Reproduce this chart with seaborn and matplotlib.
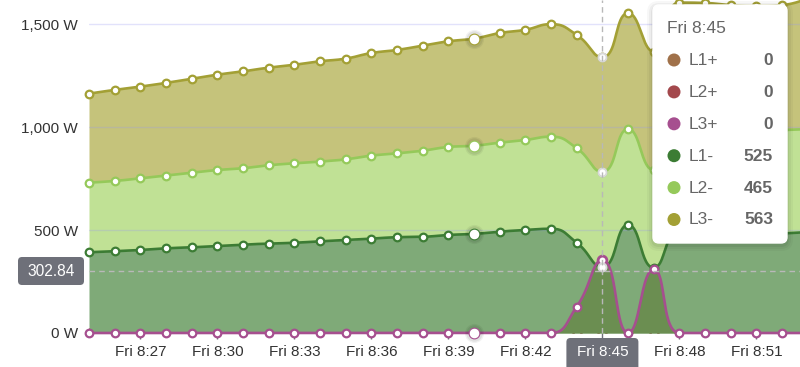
import numpy as np
import pandas as pd
import matplotlib
matplotlib.use("Agg")
import matplotlib.pyplot as plt
from matplotlib.patches import FancyBboxPatch, Circle
from matplotlib.transforms import Affine2D
import seaborn as sns

# ---------------- data (one point per minute, 8:25 .. 8:53) ----------------
times = ["8:25", "8:26", "8:27", "8:28", "8:29", "8:30", "8:31", "8:32", "8:33", "8:34",
         "8:35", "8:36", "8:37", "8:38", "8:39", "8:40", "8:41", "8:42", "8:43", "8:44",
         "8:45", "8:46", "8:47", "8:48", "8:49", "8:50", "8:51", "8:52", "8:53"]
L1_minus = [392, 397, 403, 411, 416, 422, 429, 434, 438, 445, 451, 458, 465, 467, 476, 481,
            492, 500, 506, 438, 320, 525, 317, 490, 478, 475, 478, 483, 490]
L2_minus = [338, 341, 348, 353, 362, 369, 371, 380, 386, 387, 392, 403, 407, 418, 427, 428,
            432, 437, 447, 459, 462, 465, 474, 485, 500, 505, 504, 502, 500]
L3_minus = [432, 442, 445, 450, 456, 463, 470, 474, 478, 487, 489, 498, 502, 510, 513, 520,
            532, 535, 546, 550, 556, 563, 575, 629, 624, 612, 606, 607, 635]
L1_plus = [0] * 29
L2_plus = [0] * 29
L3_plus = [0, 0, 0, 0, 0, 0, 0, 0, 0, 0, 0, 0, 0, 0, 0, 0, 0, 0, 0, 128, 354, 0, 309, 0, 0, 0, 0, 0, 0]

y_ticks = [0, 500, 1000, 1500]
y_tick_labels = ["0 W", "500 W", "1,000 W", "1,500 W"]
x_tick_labels = ["Fri 8:27", "Fri 8:30", "Fri 8:33", "Fri 8:36", "Fri 8:39", "Fri 8:42",
                 "Fri 8:45", "Fri 8:48", "Fri 8:51"]

tooltip_title = "Fri 8:45"
tooltip_names = ["L1+", "L2+", "L3+", "L1-", "L2-", "L3-"]
tooltip_values = ["0", "0", "0", "525", "465", "563"]
hover_index = 20          # 8:45
hover_value = 302.84

# ---------------- styling ----------------
C_L1P = "#a0714a"
C_L2P = "#a3484c"
C_L3P = "#a64f8f"
C_L1M = "#3c7c34"
C_L2M = "#95c95a"
C_L3M = "#a3a035"
F_L1M = "#7faa78"
F_L2M = "#c0e195"
F_L3M = "#c5c37b"
F_L3P = "#6b8e51"
TXT = "#333333"

W, H = 800, 367
PX_PER_MIN = 25.67
PX_PER_W = 0.206
LEFT_PX, ZERO_PX = 89, 333

sns.set_theme(style="white")
plt.rcParams["font.family"] = ["Liberation Sans", "DejaVu Sans"]

fig = plt.figure(figsize=(W / 100, H / 100), dpi=100)
ax = fig.add_axes([LEFT_PX / W, (H - ZERO_PX) / H, (W - LEFT_PX) / W, ZERO_PX / H])
ax.set_xlim(0, (W - LEFT_PX) / PX_PER_MIN)
ax.set_ylim(0, ZERO_PX / PX_PER_W)
for s in ax.spines.values():
    s.set_visible(False)
ax.set_facecolor("none")

px = Affine2D().scale(0.01, -0.01).translate(0, H / 100) + fig.dpi_scale_trans

minutes = np.arange(len(times), dtype=float)


def echarts_smooth(x, y, smooth=0.5, nseg=30):
    X = np.asarray(x, float) * PX_PER_MIN
    Y = np.asarray(y, float) * PX_PER_W
    n = len(X)
    out_x, out_y = [X[0]], [Y[0]]
    cpx0, cpy0 = X[0], Y[0]
    t = np.linspace(0, 1, nseg)[1:]
    for k in range(1, n):
        x0, y0 = X[k], Y[k]
        px_, py_ = X[k - 1], Y[k - 1]
        if k == n - 1:
            cpx1, cpy1 = x0, y0
            ncx, ncy = x0, y0
        else:
            nx, ny = X[k + 1], Y[k + 1]
            vx, vy = nx - px_, ny - py_
            lp = np.hypot(x0 - px_, y0 - py_)
            ln = np.hypot(nx - x0, ny - y0)
            r = ln / (ln + lp)
            ncx = x0 + vx * smooth * r
            ncy = y0 + vy * smooth * r
            ncx = min(ncx, max(nx, x0)); ncy = min(ncy, max(ny, y0))
            ncx = max(ncx, min(nx, x0)); ncy = max(ncy, min(ny, y0))
            vx, vy = ncx - x0, ncy - y0
            cpx1 = x0 - vx * lp / ln
            cpy1 = y0 - vy * lp / ln
            cpx1 = min(cpx1, max(px_, x0)); cpy1 = min(cpy1, max(py_, y0))
            cpx1 = max(cpx1, min(px_, x0)); cpy1 = max(cpy1, min(py_, y0))
            vx, vy = x0 - cpx1, y0 - cpy1
            ncx = x0 + vx * ln / lp
            ncy = y0 + vy * ln / lp
        bx = ((1 - t) ** 3 * px_ + 3 * (1 - t) ** 2 * t * cpx0 + 3 * (1 - t) * t ** 2 * cpx1 + t ** 3 * x0)
        by = ((1 - t) ** 3 * py_ + 3 * (1 - t) ** 2 * t * cpy0 + 3 * (1 - t) * t ** 2 * cpy1 + t ** 3 * y0)
        out_x.extend(bx); out_y.extend(by)
        cpx0, cpy0 = ncx, ncy
    return np.array(out_x) / PX_PER_MIN, np.array(out_y) / PX_PER_W


grid_x = np.linspace(0, minutes[-1], 3000)


def curve(vals):
    xs, ys = echarts_smooth(minutes, vals)
    return np.interp(grid_x, xs, ys)


cum1 = np.array(L1_minus, float)
cum2 = cum1 + np.array(L2_minus, float)
cum3 = cum2 + np.array(L3_minus, float)
pos1 = np.array(L1_plus, float)
pos2 = pos1 + np.array(L2_plus, float)
pos3 = pos2 + np.array(L3_plus, float)

c1, c2, c3 = curve(cum1), curve(cum2), curve(cum3)
p1, p2, p3 = curve(pos1), curve(pos2), curve(pos3)

# fills
ax.fill_between(grid_x, 0, c1, color=F_L1M, lw=0, zorder=1)
ax.fill_between(grid_x, c1, c2, color=F_L2M, lw=0, zorder=1)
ax.fill_between(grid_x, c2, c3, color=F_L3M, lw=0, zorder=1)
ax.fill_between(grid_x, p2, p3, color=F_L3P, lw=0, zorder=1.5)

# grid lines
for v in y_ticks[1:]:
    ax.axhline(v, color=(0.6, 0.6, 0.95), alpha=0.28, lw=1.0, zorder=2)

# zero-valued positive phases L1+/L2+ lie underneath everything (hidden as in the source)
for vals, yy, col in [(pos1, p1, C_L1P), (pos2, p2, C_L2P)]:
    sns.lineplot(x=grid_x, y=yy, ax=ax, color=col, lw=1.9, zorder=0.5, estimator=None)
    df = pd.DataFrame({"m": minutes, "v": vals})
    sns.scatterplot(data=df, x="m", y="v", ax=ax, s=30, color="white", edgecolor=col,
                    linewidth=1.6, zorder=0.6, legend=False)

# visible lines (seaborn)
line_specs = [(c1, C_L1M), (c2, C_L2M), (c3, C_L3M), (p3, C_L3P)]
for yy, col in line_specs:
    sns.lineplot(x=grid_x, y=yy, ax=ax, color=col, lw=1.9, zorder=3,
                 estimator=None, clip_on=False)

# markers (seaborn)
marker_specs = [(cum1, C_L1M), (cum2, C_L2M), (cum3, C_L3M), (pos3, C_L3P)]
for vals, col in marker_specs:
    df = pd.DataFrame({"m": minutes, "v": vals})
    sns.scatterplot(data=df, x="m", y="v", ax=ax, s=30, color="white", edgecolor=col,
                    linewidth=1.6, zorder=4, clip_on=False, legend=False)

# emphasised markers at 8:40 (with soft shadow)
emph = 15
for vals, col in marker_specs:
    for s_, a_ in [(190, 0.05), (140, 0.07)]:
        ax.scatter([minutes[emph]], [vals[emph]], s=s_, color="black", alpha=a_, lw=0,
                   zorder=4.2, clip_on=False)
    ax.scatter([minutes[emph]], [vals[emph]], s=60, color="white", edgecolor=col,
               linewidth=0.8, zorder=4.5, clip_on=False)

# hovered markers at 8:45
for vals, col in marker_specs[:3]:
    ax.scatter([minutes[hover_index]], [vals[hover_index]], s=34, color="white",
               edgecolor=(0.85, 0.85, 0.85), linewidth=1.4, zorder=4.6, clip_on=False)
ax.scatter([minutes[hover_index]], [pos3[hover_index]], s=40, color="white",
           edgecolor=C_L3P, linewidth=2.0, zorder=4.4, clip_on=False)

# axes ticks
ax.set_yticks(y_ticks)
ax.set_yticklabels(y_tick_labels)
xt = minutes[2:27:3]
ax.set_xticks(xt)
ax.set_xticklabels([("" if lab == tooltip_title else lab) for lab in x_tick_labels])
ax.tick_params(axis="y", length=0, pad=8, labelsize=11, labelcolor=TXT)
ax.tick_params(axis="x", length=4, width=1, color="#6e7079", direction="out", pad=4.5,
               labelsize=11, labelcolor=TXT, bottom=True)
ax.set_xlabel(""); ax.set_ylabel("")
ax.grid(False)

# crosshair
ax.axvline(minutes[hover_index], color="#b8b8b8", lw=1, ls=(0, (4, 3)), zorder=5, ymin=0, ymax=1)
ax.axhline(hover_value, color="#b8b8b8", lw=1, ls=(0, (4, 3)), zorder=5)

# crosshair labels
fig.patches.append(FancyBboxPatch((18, 257), 66, 28, boxstyle="round,pad=0,rounding_size=4",
                                  transform=px, fc="#6e7079", ec="none", zorder=10))
fig.text(51, 271.5, f"{hover_value:.2f}", transform=px, ha="center", va="center",
         color="white", fontsize=11.2, zorder=11)
xbox = LEFT_PX + minutes[hover_index] * PX_PER_MIN
fig.patches.append(FancyBboxPatch((xbox - 36, 338), 72, 36, boxstyle="round,pad=0,rounding_size=4",
                                  transform=px, fc="#6e7079", ec="none", zorder=10))
fig.text(xbox, 351.5, tooltip_title, transform=px, ha="center", va="center",
         color="white", fontsize=11, zorder=11)

# tooltip
tx0, ty0, tw, th = 653, 5, 134, 238
for grow, a_ in [(6, 0.03), (4, 0.04), (2, 0.05)]:
    fig.patches.append(FancyBboxPatch((tx0 - grow, ty0 - grow + 2), tw + 2 * grow, th + 2 * grow,
                                      boxstyle=f"round,pad=0,rounding_size={6 + grow}",
                                      transform=px, fc="black", alpha=a_, ec="none", zorder=12))
fig.patches.append(FancyBboxPatch((tx0, ty0), tw, th, boxstyle="round,pad=0,rounding_size=6",
                                  transform=px, fc="white", ec="#ffffff", zorder=13))
fig.text(667, 28.5, tooltip_title, transform=px, ha="left", va="center", color="#666666",
         fontsize=12.5, zorder=14)
dot_cols = [C_L1P, C_L2P, C_L3P, C_L1M, C_L2M, C_L3M]
for i, (nm, val, col) in enumerate(zip(tooltip_names, tooltip_values, dot_cols)):
    yy = 60 + i * 31.9
    fig.patches.append(Circle((674, yy), 6.5, transform=px, fc=col, ec="none", zorder=14))
    fig.text(689, yy + 0.5, nm, transform=px, ha="left", va="center", color="#666666",
             fontsize=12.5, zorder=14)
    fig.text(773, yy + 0.5, val, transform=px, ha="right", va="center", color="#666666",
             fontsize=12.5, fontweight="bold", zorder=14)

fig.savefig("out.png", dpi=100)
